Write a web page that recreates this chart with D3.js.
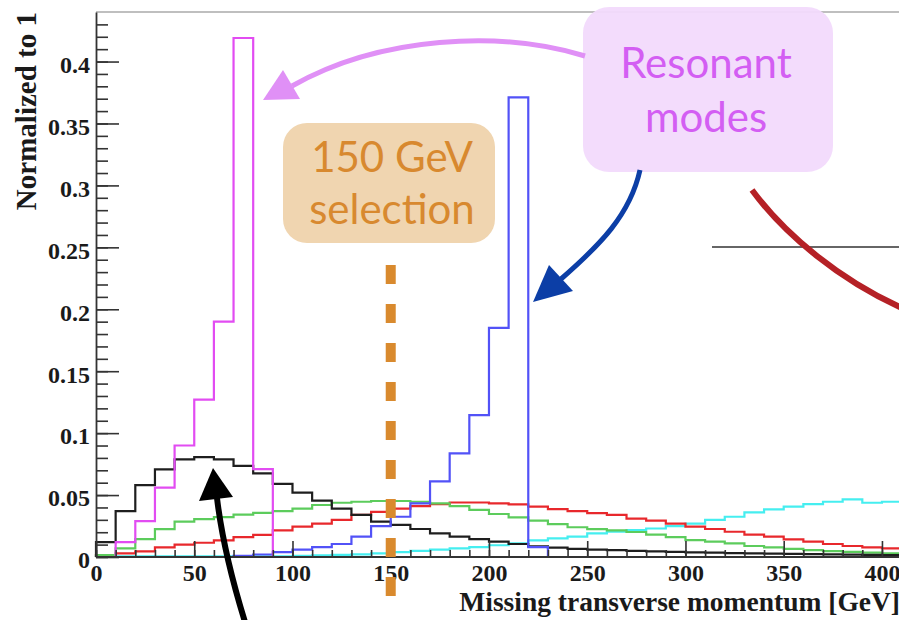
<!DOCTYPE html>
<html>
<head>
<meta charset="utf-8">
<script src="https://cdn.jsdelivr.net/npm/d3@7"></script>
<style>
  body { margin: 0; background: #fff; }
  svg { display: block; }
</style>
</head>
<body>
<svg width="899" height="620"></svg>
<script>
// histogram contents, 10 GeV bins starting at 0
const binWidth = 10;
const cyanVals = [0.0005, 0.0005, 0.0005, 0.0005, 0.0005, 0.0005, 0.0005, 0.0005, 0.0005, 0.0005,
  0.001, 0.0013, 0.0017, 0.0022, 0.003, 0.004, 0.005, 0.006, 0.007, 0.008,
  0.0095, 0.011, 0.0135, 0.015, 0.0165, 0.019, 0.0204, 0.0218, 0.023, 0.025,
  0.027, 0.030, 0.0325, 0.036, 0.0385, 0.0406, 0.0427, 0.0446, 0.0465, 0.0438, 0.0446];
const redVals = [0.0015, 0.003, 0.0045, 0.0078, 0.010, 0.0115, 0.0134, 0.016, 0.0178, 0.0215,
  0.0245, 0.027, 0.030, 0.034, 0.0365, 0.039, 0.041, 0.0427, 0.044, 0.044,
  0.0433, 0.0425, 0.0406, 0.0387, 0.037, 0.0355, 0.034, 0.031, 0.0293, 0.027,
  0.0245, 0.0226, 0.0204, 0.018, 0.0164, 0.0143, 0.0124, 0.0105, 0.0089, 0.0078, 0.007];
const greenVals = [0.0015, 0.007, 0.0145, 0.0225, 0.0285, 0.0305, 0.0322, 0.0342, 0.0356, 0.037,
  0.039, 0.042, 0.0438, 0.0446, 0.0452, 0.0452, 0.0446, 0.0433, 0.041, 0.038,
  0.0347, 0.032, 0.0293, 0.0266, 0.024, 0.0225, 0.0215, 0.0202, 0.018, 0.016,
  0.0137, 0.0124, 0.011, 0.0089, 0.0078, 0.0065, 0.0056, 0.0048, 0.0042, 0.0036, 0.003];
const blackVals = [0.012, 0.037, 0.058, 0.0707, 0.0788, 0.0806, 0.0788, 0.0736, 0.0675, 0.059,
  0.052, 0.0455, 0.039, 0.034, 0.0285, 0.026, 0.0226, 0.019, 0.0164, 0.0145,
  0.0124, 0.0105, 0.0085, 0.0075, 0.0065, 0.006, 0.0055, 0.005, 0.0046, 0.0042,
  0.0038, 0.0035, 0.0032, 0.003, 0.0027, 0.0025, 0.0023, 0.0021, 0.0019, 0.0017, 0.0016];
const blueVals = [0, 0, 0, 0, 0, 0, 0, 0.001, 0.002, 0.004,
  0.006, 0.008, 0.0105, 0.0164, 0.025, 0.0325, 0.0433, 0.061, 0.0836, 0.1145,
  0.185, 0.371, 0.008, 0, 0, 0, 0, 0, 0, 0,
  0, 0, 0, 0, 0, 0, 0, 0, 0, 0, 0];
const magentaVals = [0, 0.012, 0.029, 0.056, 0.090, 0.127, 0.190, 0.419, 0.071, 0,
  0, 0, 0, 0, 0, 0, 0, 0, 0, 0,
  0, 0, 0, 0, 0, 0, 0, 0, 0, 0,
  0, 0, 0, 0, 0, 0, 0, 0, 0, 0, 0];

const xTicks = [0, 50, 100, 150, 200, 250, 300, 350, 400];
const yTicks = [0, 0.05, 0.1, 0.15, 0.2, 0.25, 0.3, 0.35, 0.4];
const yTickLabels = ["0", "0.05", "0.1", "0.15", "0.2", "0.25", "0.3", "0.35", "0.4"];
const selectionCut = 150;

const series = [
  { vals: cyanVals, color: "#45eef0" },
  { vals: redVals, color: "#e8282c" },
  { vals: greenVals, color: "#5ccc5c" },
  { vals: blackVals, color: "#1e1e1e" },
  { vals: blueVals, color: "#5252f7" },
  { vals: magentaVals, color: "#e24cf2" }
];

const svg = d3.select("svg");
const x = d3.scaleLinear().domain([0, 410]).range([96, 901.6]);
const y = d3.scaleLinear().domain([0, 0.44]).range([557, 12]);

// frame top line
svg.append("line")
  .attr("x1", x(0)).attr("x2", 899)
  .attr("y1", y(0.44)).attr("y2", y(0.44))
  .attr("stroke", "#aaa").attr("stroke-width", 1.5);

// histograms
const step = d3.line()
  .x(d => x(d[0]))
  .y(d => y(d[1]))
  .curve(d3.curveStepAfter);

series.forEach(s => {
  const pts = s.vals.map((v, i) => [i * binWidth, v]);
  const end = s.vals.length * binWidth;
  pts.push([end, s.vals[s.vals.length - 1]]);
  const d = "M" + x(0) + "," + y(0) + "L" + step(pts).slice(1) + "L" + x(end) + "," + y(0);
  svg.append("path")
    .attr("d", d)
    .attr("fill", "none")
    .attr("stroke", s.color)
    .attr("stroke-width", 2.2);
});

// axes
const axisFont = "'Liberation Serif', 'Times New Roman', serif";

const yMinor = svg.append("g")
  .attr("transform", "translate(" + x(0) + ",0)")
  .call(d3.axisLeft(y).tickValues(d3.range(0, 0.44, 0.01)).tickSize(-12).tickFormat(""));
yMinor.select(".domain").remove();

const yAxis = svg.append("g")
  .attr("transform", "translate(" + x(0) + ",0)")
  .call(d3.axisLeft(y).tickValues(yTicks).tickSize(-23).tickSizeOuter(0).tickPadding(6)
    .tickFormat((d, i) => yTickLabels[i]));
yAxis.selectAll("text").attr("dy", "0.45em");

const xMinor = svg.append("g")
  .attr("transform", "translate(0," + y(0) + ")")
  .call(d3.axisBottom(x).tickValues(d3.range(0, 411, 10)).tickSize(-7).tickFormat(""));
xMinor.select(".domain").remove();

const xAxis = svg.append("g")
  .attr("transform", "translate(0," + y(0) + ")")
  .call(d3.axisBottom(x).tickValues(xTicks).tickSize(-16).tickSizeOuter(0).tickPadding(7));
xAxis.select(".domain").attr("d", "M" + x(0) + ",0H899");

[yMinor, yAxis, xMinor, xAxis].forEach(g => {
  g.selectAll("line").attr("stroke", "#333").attr("stroke-width", 1.6);
  g.selectAll(".domain").attr("stroke", "#333").attr("stroke-width", 1.8);
  g.selectAll("text")
    .attr("font-family", axisFont)
    .attr("font-weight", "bold")
    .attr("font-size", 24)
    .attr("fill", "#1a1a1a");
});

svg.append("text")
  .attr("transform", "translate(36," + y(0.44) + ") rotate(-90)")
  .attr("text-anchor", "end")
  .attr("font-family", axisFont)
  .attr("font-weight", "bold")
  .attr("font-size", 29)
  .attr("fill", "#1a1a1a")
  .text("Normalized to 1");

svg.append("text")
  .attr("x", 900).attr("y", 611)
  .attr("text-anchor", "end")
  .attr("font-family", axisFont)
  .attr("font-weight", "bold")
  .attr("font-size", 27.5)
  .attr("fill", "#1a1a1a")
  .text("Missing transverse momentum [GeV]");

// thin line at right
svg.append("line")
  .attr("x1", 712).attr("x2", 899).attr("y1", 247).attr("y2", 247)
  .attr("stroke", "#333").attr("stroke-width", 1.5);

// selection cut
svg.append("line")
  .attr("x1", x(selectionCut)).attr("x2", x(selectionCut))
  .attr("y1", 265).attr("y2", 598)
  .attr("stroke", "#d98a2e").attr("stroke-width", 10)
  .attr("stroke-dasharray", "19 20");

// annotation boxes
const noteFont = "Lato, 'Open Sans', sans-serif";

svg.append("rect")
  .attr("x", 283).attr("y", 123).attr("width", 212).attr("height", 120)
  .attr("rx", 24).attr("fill", "#f0d5b0");
svg.append("text")
  .attr("x", 392).attr("y", 172).attr("text-anchor", "middle")
  .attr("font-family", noteFont).attr("font-size", 42).attr("fill", "#d8892f")
  .text("150 GeV");
svg.append("text")
  .attr("x", 392).attr("y", 224).attr("text-anchor", "middle")
  .attr("font-family", noteFont).attr("font-size", 42).attr("fill", "#d8892f")
  .text("selection");

svg.append("rect")
  .attr("x", 583).attr("y", 7).attr("width", 250).attr("height", 165)
  .attr("rx", 26).attr("fill", "#f2dafc").attr("fill-opacity", 0.95);
svg.append("text")
  .attr("x", 706).attr("y", 78).attr("text-anchor", "middle")
  .attr("font-family", noteFont).attr("font-size", 42).attr("fill", "#d35ef3")
  .text("Resonant");
svg.append("text")
  .attr("x", 706).attr("y", 132).attr("text-anchor", "middle")
  .attr("font-family", noteFont).attr("font-size", 42).attr("fill", "#d35ef3")
  .text("modes");

// arrows
function arrow(path, head, color, width) {
  svg.append("path").attr("d", path)
    .attr("fill", "none").attr("stroke", color)
    .attr("stroke-width", width).attr("stroke-linecap", "butt");
  svg.append("path").attr("d", "M" + head.join("L") + "Z").attr("fill", color);
}

arrow("M585,56 C500,30 380,36 292,86", [[263, 100], [283, 70], [300, 99]], "#e090f6", 5);
arrow("M640,170 C630,215 600,245 561,279", [[533, 302], [549, 265], [573, 291]], "#0c3ea6", 5);
arrow("M217,498 C222,540 232,580 245,622", [[213, 468], [199, 501], [233, 497]], "#000", 6);

svg.append("path")
  .attr("d", "M752,190 C785,235 840,280 902,308")
  .attr("fill", "none").attr("stroke", "#b52126").attr("stroke-width", 6);
</script>
</body>
</html>
